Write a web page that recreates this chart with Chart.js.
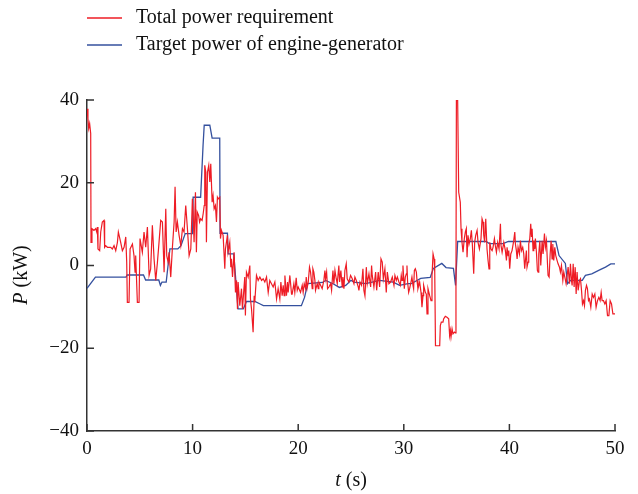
<!DOCTYPE html>
<html>
<head>
<meta charset="utf-8">
<script src="https://cdn.jsdelivr.net/npm/chart.js@4.4.0/dist/chart.umd.min.js"></script>
<style>
  html, body { margin: 0; padding: 0; background: #fff; }
  #wrap { width: 638px; height: 494px; position: relative; }
</style>
</head>
<body>
<div id="wrap"><canvas id="chart"></canvas></div>
<script>
// axis ticks
const xTicks = [0, 10, 20, 30, 40, 50];
const yTicks = [-40, -20, 0, 20, 40];

// series names
const seriesNames = ["Total power requirement", "Target power of engine-generator"];

// total power requirement, [t (s), P (kW)]
const totalPower = [
  [0,37.9],[0.09,35.5],[0.16,33.1],[0.25,34.3],[0.35,31.9],[0.38,5.6],[0.47,8.9],[0.66,8.5],[0.82,8.9],[0.92,8.1],
  [0.98,9.3],[1.04,4.0],[1.2,3.6],[1.3,8.1],[1.45,10.5],[1.61,10.9],[1.67,4.4],[1.77,4.8],[1.93,4.4],[2.24,4.4],
  [2.4,4.0],[2.56,4.8],[2.72,3.6],[2.88,5.6],[2.97,8.1],[3.03,8.1],[3.19,5.6],[3.35,3.6],[3.51,4.4],[3.67,6.9],
  [3.76,0.8],[3.82,-8.9],[3.98,-8.9],[4.08,4.0],[4.3,5.2],[4.45,2.4],[4.55,-1.6],[4.61,2.4],[4.77,-8.9],[4.93,-8.9],
  [5.02,6.5],[5.24,3.2],[5.4,8.1],[5.56,4.4],[5.72,9.3],[5.88,-2.4],[6.03,-0.8],[6.19,9.7],[6.35,1.6],[6.51,-3.6],
  [6.67,0.8],[6.82,5.6],[6.98,10.9],[7.14,10.5],[7.3,-1.6],[7.46,13.7],[7.55,2.4],[7.68,0.8],[7.77,3.2],[7.93,-2.8],
  [8.09,4.4],[8.25,10.5],[8.34,19.0],[8.44,8.1],[8.56,10.5],[8.72,7.3],[8.88,4.8],[9.04,8.9],[9.19,8.1],[9.35,14.5],
  [9.51,8.9],[9.67,2.4],[9.83,4.0],[9.98,16.1],
  [10.05,12.9],[10.14,5.6],[10.27,17.7],[10.36,3.2],[10.44,12.9],[10.57,12.1],[10.66,10.5],[10.76,11.3],[10.9,10.9],[11.0,12.5],
  [11.1,14.5],[11.15,24.2],[11.25,22.6],[11.31,5.6],[11.41,22.6],[11.53,24.2],[11.63,20.2],[11.72,24.6],[11.85,15.3],[11.94,16.9],
  [12.04,13.7],[12.16,14.5],[12.26,10.5],[12.35,16.5],[12.42,16.1],[12.57,16.5],[12.64,6.5],[12.73,8.5],[12.89,7.3],[13.05,-0.8],
  [13.11,4.0],[13.3,7.3],[13.36,3.2],[13.52,5.6],[13.62,-0.4],[13.68,1.6],[13.78,-2.8],[13.93,3.2],[14.06,-6.5],[14.16,-3.6],
  [14.25,-10.5],[14.31,-4.0],[14.47,-9.7],[14.63,-5.6],[14.72,-10.5],[14.94,-2.8],[15.0,-12.1],[15.1,-1.6],[15.26,-2.8],[15.42,0],
  [15.48,-8.1],[15.58,-10.5],[15.73,-16.1],[15.83,-7.3],[15.89,-8.9],[16.05,-2.4],[16.21,-3.6],[16.37,-2.8],[16.53,-3.6],[16.68,-3.2],
  [16.84,-4.0],[17.0,-2.8],[17.16,-6.5],[17.31,-3.6],[17.47,-4.4],[17.63,-5.2],[17.79,-4.0],[17.95,-8.1],[18.1,-5.6],[18.26,-8.1],
  [18.36,-4.0],[18.48,-7.3],[18.58,-4.8],[18.67,-7.3],[18.74,-2.4],[18.89,-7.3],[18.99,-4.0],[19.05,-6.5],[19.21,-2.4],[19.37,-6.9],
  [19.43,-6.9],[19.59,-4.4],[19.68,-6.5],[19.81,-3.0],[19.91,-6.0],[20.0,-5.2],[20.22,-6.5],[20.38,-4.8],[20.47,-6.5],[20.57,-4.4],
  [20.7,-5.6],[20.76,-2.8],[20.85,-5.4],[20.95,-4.0],[21.07,-0.4],[21.17,-1.6],[21.33,-5.6],[21.39,-0.8],[21.48,-1.6],[21.58,-3.6],
  [21.64,-6.0],[21.8,-4.4],[21.9,-5.6],[21.96,-4.0],[22.12,-4.8],[22.27,-5.6],[22.43,-3.6],[22.53,-1.2],[22.59,-3.2],[22.69,-1.6],
  [22.78,-5.6],[22.91,-5.2],[23.07,-4.4],[23.16,-6.0],[23.29,-1.2],[23.38,-4.4],[23.48,-1.2],[23.6,-3.2],[23.7,-4.4],[23.85,0],
  [23.92,-4.0],[24.04,-1.2],[24.17,-5.2],[24.23,-2.8],[24.33,-5.6],[24.42,-1.2],[24.55,0.4],[24.64,-3.2],[24.8,-4.0],[24.96,-2.4],
  [25.12,-3.2],[25.28,-4.4],[25.37,-2.8],[25.5,-3.6],[25.69,-5.2],[25.75,-6.0],[25.85,-4.0],[26.0,-4.8],[26.13,-0.8],[26.22,-6.0],
  [26.32,-7.3],[26.45,-0.4],[26.54,-4.4],[26.7,-2.0],[26.86,-5.2],[26.95,0],[27.01,-2.4],[27.17,-5.2],[27.33,-1.6],[27.43,-6.0],
  [27.58,-1.6],[27.71,-5.2],[27.84,1.6],[27.96,0.8],[28.06,-3.2],[28.21,-0.8],[28.34,-6.5],[28.44,-1.6],[28.59,-4.4],[28.75,-4.0],
  [28.91,-2.8],[29.07,-4.8],[29.16,-2.4],[29.29,-3.6],[29.39,-2.8],[29.54,-4.0],
  [29.67,-4.8],[29.76,-2.4],[29.83,-3.6],[29.92,0],[30.05,-5.6],[30.14,-2.8],[30.24,-2.0],[30.3,0],[30.36,-4.0],[30.46,-6.5],
  [30.55,-5.6],[30.68,-4.0],[30.77,-2.8],[30.87,-4.8],[30.93,-5.6],[31.0,-1.2],[31.09,-0.8],[31.19,-1.6],[31.25,-3.6],[31.34,-5.6],
  [31.5,-4.0],[31.63,-6.5],[31.72,-10.1],[31.82,-7.3],[31.88,-4.8],[32.04,-6.5],[32.13,-6.9],[32.2,-11.7],[32.29,-5.6],[32.45,-7.3],
  [32.58,-8.5],[32.67,-2.4],[32.77,2.8],[32.87,1.6],[32.93,-1.6],[33.0,-19.4],[33.14,-19.4],[33.4,-19.4],[33.46,-14.5],[33.55,-13.7],
  [33.71,-13.7],[33.77,-12.9],[33.93,-12.3],[34.09,-12.5],[34.25,-12.9],[34.34,-16.9],[34.41,-15.7],[34.47,-17.3],[34.57,-15.3],[34.66,-16.5],
  [34.79,-16.1],[34.88,-16.3],[34.94,-5.6],[34.98,39.9],[35.1,39.9],[35.2,17.7],[35.35,15.3],[35.42,8.9],[35.51,5.6],[35.61,3.2],
  [35.73,6.5],[35.83,8.1],[35.92,8.9],[35.99,2.0],[36.08,7.3],[36.18,5.2],[36.3,6.5],[36.4,8.5],[36.49,5.2],[36.62,-2.0],
  [36.71,5.6],[36.81,7.3],[36.94,8.5],[37.03,5.6],[37.16,4.0],[37.31,6.5],[37.41,11.3],[37.5,10.5],[37.57,7.3],[37.66,5.6],
  [37.76,11.3],[37.88,4.0],[37.98,1.2],[38.07,-0.8],[38.14,5.6],[38.26,4.0],[38.36,3.6],[38.45,4.4],[38.58,6.5],[38.67,4.8],
  [38.77,3.2],[38.89,5.6],[39.02,4.0],[39.15,10.1],[39.21,4.8],[39.31,3.2],[39.47,5.6],
  [39.62,3.6],[39.72,1.2],[39.78,4.4],[39.87,2.4],[39.94,3.6],[40.03,-0.8],[40.13,2.8],[40.25,3.6],[40.41,6.0],[40.51,8.1],
  [40.57,5.2],[40.66,3.6],[40.73,1.6],[40.82,4.4],[40.95,2.8],[41.04,6.0],[41.14,3.6],[41.26,4.4],[41.36,2.8],[41.45,-0.8],
  [41.52,1.2],[41.61,3.6],[41.67,-0.4],[41.77,0.8],[41.83,5.2],[41.93,6.5],[42.02,10.1],[42.09,6.9],[42.15,8.9],[42.24,3.6],
  [42.31,6.0],[42.4,4.0],[42.46,6.5],[42.56,3.2],[42.65,-1.2],[42.72,-1.6],[42.78,2.8],[42.88,6.0],[42.97,0],[43.1,6.0],
  [43.19,2.8],[43.32,7.7],[43.41,4.4],[43.51,6.0],[43.6,0.8],[43.66,-2.4],[43.76,-2.8],[43.86,2.8],[43.95,6.0],[44.04,1.6],
  [44.11,5.2],[44.2,1.2],[44.3,4.4],[44.39,2.4],[44.52,1.2],[44.61,0.4],[44.74,-0.4],[44.83,-1.6],[44.93,0],[45.06,-3.6],
  [45.15,-1.6],[45.25,-2.8],[45.37,-4.4],[45.47,-2.4],[45.56,-0.4],[45.69,-4.4],[45.78,0.4],[45.88,-3.6],[45.94,-4.8],[46.04,0.4],
  [46.13,-5.2],[46.23,-0.4],[46.32,-6.9],[46.41,-1.6],[46.51,-6.0],[46.64,-3.6],[46.73,-3.2],[46.83,-6.0],[46.92,-9.3],[47.02,-8.5],
  [47.11,-9.7],[47.2,-6.0],[47.3,-4.8],[47.39,-5.6],[47.49,-8.5],[47.58,-8.1],[47.71,-10.1],[47.84,-6.9],[47.96,-7.7],[48.09,-6.9],
  [48.21,-10.1],[48.34,-8.5],[48.47,-7.7],[48.59,-8.5],[48.69,-6.5],[48.78,-8.5],[48.91,-8.5],[49.04,-9.3],[49.16,-8.5],[49.29,-12.1],
  [49.42,-12.1],[49.54,-8.5],[49.67,-9.3],[49.8,-11.7],[49.92,-11.7],[50,-11.7]
];

// target power of engine-generator, [t (s), P (kW)]
const targetPower = [
  [0,-5.5],[0.8,-2.8],[3.7,-2.8],[3.8,-2.3],[5.35,-2.3],[5.55,-3.5],[6.8,-3.5],[6.95,-4.8],[7.1,-4.0],[7.5,-4.0],
  [7.85,4.0],[8.6,4.0],[8.9,4.8],[9.3,7.7],[10.0,7.7],[10.05,16.5],[10.76,16.5],[10.99,29],[11.1,33.9],[11.63,33.9],
  [11.85,30.8],[12.57,30.8],[12.6,7.8],[13.3,7.8],[13.36,2.8],[13.9,2.8],[14.3,-10.5],[14.8,-10.5],[15.1,-8.7],[15.9,-8.7],
  [16.4,-9.3],[16.7,-9.7],[20.3,-9.7],[20.6,-7.7],[20.9,-4.4],[22.3,-4.1],[22.6,-3.6],[23.3,-4.4],[23.9,-5.3],[24.5,-4.8],
  [25.0,-3.6],[25.3,-4.0],[26.4,-4.4],[27.7,-3.6],[29.0,-4.0],[29.6,-4.8],[30.4,-4.4],[30.7,-4.4],[31.6,-3.1],[32.5,-2.9],
  [32.8,-0.7],[33.6,0.5],[34.0,-0.5],[34.7,-0.7],[34.9,-4.8],[35.1,5.8],[37.8,5.8],[38.1,5.3],[39.4,5.3],[39.9,5.8],
  [44.4,5.8],[44.7,2.4],[45.3,0.5],[45.5,-4.4],[45.8,-3.6],[46.9,-3.6],[47.2,-2.4],[47.8,-2.0],[48.6,-1.0],[49.1,-0.4],
  [49.6,0.4],[50,0.4]
];

const redColor = "#ee1c25";
const blueColor = "#34509e";
const axisColor = "#333333";
const serif = "'Liberation Serif', 'DejaVu Serif', serif";

const toXY = arr => arr.map(p => ({ x: p[0], y: p[1] }));
const minus = v => String(v).replace("-", "\u2212");

// inward ticks, legend and axis titles drawn on the canvas
const decor = {
  id: "decor",
  afterDraw(chart) {
    const { ctx, chartArea: a, scales: { x, y } } = chart;
    ctx.save();
    ctx.strokeStyle = axisColor;
    ctx.lineWidth = 1.5;
    ctx.beginPath();
    xTicks.forEach(v => {
      const px = x.getPixelForValue(v);
      ctx.moveTo(px, a.bottom);
      ctx.lineTo(px, a.bottom - 7);
    });
    yTicks.forEach(v => {
      const py = y.getPixelForValue(v);
      ctx.moveTo(a.left, py);
      ctx.lineTo(a.left + 7, py);
    });
    ctx.stroke();

    // legend
    const rows = [[seriesNames[0], redColor, 18], [seriesNames[1], blueColor, 45]];
    ctx.font = "20px " + serif;
    ctx.textBaseline = "middle";
    ctx.textAlign = "left";
    ctx.fillStyle = "#111";
    rows.forEach(r => {
      ctx.strokeStyle = r[1];
      ctx.lineWidth = 1.3;
      ctx.beginPath();
      ctx.moveTo(87, r[2]);
      ctx.lineTo(122, r[2]);
      ctx.stroke();
      ctx.fillText(r[0], 136, r[2]);
    });

    // axis titles with italic symbol
    const drawTitle = (sym, rest, cx, cy) => {
      ctx.font = "italic 20px " + serif;
      const w1 = ctx.measureText(sym).width;
      ctx.font = "20px " + serif;
      const w2 = ctx.measureText(rest).width;
      const sx = cx - (w1 + w2) / 2;
      ctx.font = "italic 20px " + serif;
      ctx.fillText(sym, sx, cy);
      ctx.font = "20px " + serif;
      ctx.fillText(rest, sx + w1, cy);
    };
    drawTitle("t", " (s)", (a.left + a.right) / 2, 481);
    ctx.translate(22, 275);
    ctx.rotate(-Math.PI / 2);
    drawTitle("P", " (kW)", 0, 0);
    ctx.restore();
  }
};

new Chart(document.getElementById("chart"), {
  type: "line",
  data: {
    datasets: [{
      label: seriesNames[0],
      data: toXY(totalPower),
      borderColor: redColor,
      borderWidth: 1.2,
      pointRadius: 0,
      tension: 0,
      fill: false
    }, {
      label: seriesNames[1],
      data: toXY(targetPower),
      borderColor: blueColor,
      borderWidth: 1.3,
      pointRadius: 0,
      tension: 0,
      fill: false
    }]
  },
  options: {
    responsive: true,
    maintainAspectRatio: false,
    animation: false,
    layout: { padding: { top: 100, right: 23, left: 0, bottom: 0 } },
    plugins: {
      legend: { display: false },
      tooltip: { enabled: false }
    },
    scales: {
      x: {
        type: "linear",
        min: xTicks[0],
        max: xTicks[xTicks.length - 1],
        afterFit: s => { s.height = 63; },
        afterBuildTicks: s => { s.ticks = xTicks.map(v => ({ value: v })); },
        grid: { display: false, drawTicks: false },
        border: { display: true, color: axisColor, width: 1.5 },
        ticks: { color: "#111", padding: 7, maxRotation: 0, font: { family: serif, size: 19 } }
      },
      y: {
        type: "linear",
        min: yTicks[0],
        max: yTicks[yTicks.length - 1],
        afterFit: s => { s.width = 87; },
        afterBuildTicks: s => { s.ticks = yTicks.map(v => ({ value: v })); },
        grid: { display: false, drawTicks: false },
        border: { display: true, color: axisColor, width: 1.5 },
        ticks: { color: "#111", padding: 8, callback: v => minus(v), font: { family: serif, size: 19 } }
      }
    }
  },
  plugins: [decor]
});
</script>
</body>
</html>
